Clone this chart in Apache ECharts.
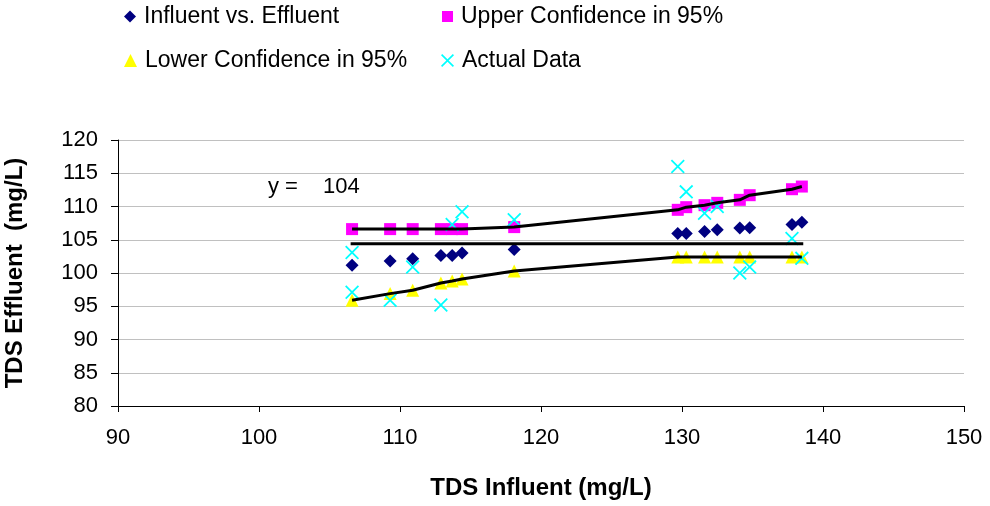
<!DOCTYPE html>
<html>
<head>
<meta charset="utf-8">
<script src="https://cdn.jsdelivr.net/npm/echarts@6/dist/echarts.min.js"></script>
<style>html,body{margin:0;padding:0;background:#fff}#c{width:990px;height:506px}</style>
</head>
<body>
<div id="c"></div>
<script>
var influent = [106.6, 109.3, 110.9, 112.9, 113.7, 114.4, 118.1, 129.7, 130.3, 131.6, 132.5, 134.1, 134.8, 137.8, 138.5];
var predicted = [101.15, 101.8, 102.15, 102.65, 102.65, 103.0, 103.55, 105.95, 105.95, 106.25, 106.5, 106.75, 106.8, 107.3, 107.65];
var upper = [106.6, 106.6, 106.6, 106.6, 106.6, 106.6, 106.9, 109.5, 109.9, 110.2, 110.55, 111.0, 111.7, 112.6, 113.0];
var lower = [95.9, 96.9, 97.4, 98.5, 98.8, 99.1, 100.3, 102.4, 102.4, 102.4, 102.4, 102.4, 102.4, 102.4, 102.4];
var actualX = [106.6, 106.6, 109.3, 110.9, 112.9, 113.7, 114.4, 118.1, 129.7, 130.3, 131.6, 132.5, 134.1, 134.8, 137.8, 138.5];
var actualY = [103.1, 97.1, 95.9, 100.9, 95.2, 107.3, 109.2, 108.0, 116.0, 112.2, 109.0, 110.0, 100.0, 100.9, 105.2, 102.2];
var meanX = [106.5, 138.6];
var meanY = [104.4, 104.4];
var xTicks = [90, 100, 110, 120, 130, 140, 150];
var yTicks = [80, 85, 90, 95, 100, 105, 110, 115, 120];

var FONT = 'Liberation Sans';
var crossPath = 'path://M0,0.9L0.9,0L5,4.1L9.1,0L10,0.9L5.9,5L10,9.1L9.1,10L5,5.9L0.9,10L0,9.1L4.1,5Z';
function pairs(xs, ys) { return xs.map(function (x, i) { return [x, ys[i]]; }); }

var chart = echarts.init(document.getElementById('c'));
function legend(name, icon, left, top, w, h, color) {
  return {
    data: [{ name: name, icon: icon, itemStyle: { color: color, opacity: 1 } }], left: left, top: top, padding: 0,
    itemWidth: w, itemHeight: h, selectedMode: false,
    textStyle: { fontFamily: FONT, fontSize: 23, color: '#000', padding: [0, 0, 0, 3] }
  };
}
chart.setOption({
  animation: false,
  backgroundColor: '#fff',
  legend: [
    legend('Influent vs. Effluent', 'diamond', 124, 5, 12, 12, '#000080'),
    legend('Upper Confidence in 95%', 'rect', 442, 5, 11, 11, '#FF00FF'),
    legend('Lower Confidence in 95%', 'triangle', 124, 49, 13, 13, '#FFFF00'),
    legend('Actual Data', crossPath, 441, 49, 13, 13, '#00FFFF')
  ],
  grid: { left: 118, right: 26, top: 140, bottom: 100, outerBoundsMode: 'none', containLabel: false },
  xAxis: {
    type: 'value', min: 90, max: 150, interval: 10,
    name: 'TDS Influent (mg/L)', nameLocation: 'middle', nameGap: 70,
    nameTextStyle: { fontFamily: FONT, fontSize: 24, fontWeight: 'bold', color: '#000' },
    axisLine: { show: true, onZero: false, lineStyle: { color: '#000', width: 1 } },
    axisTick: { show: true, length: 6, lineStyle: { color: '#000' } },
    axisLabel: { fontFamily: FONT, fontSize: 22, color: '#000', margin: 21,
      formatter: function (v) { return xTicks.indexOf(v) >= 0 ? String(v) : ''; } },
    splitLine: { show: false }
  },
  yAxis: {
    type: 'value', min: 80, max: 120, interval: 5,
    name: 'TDS Effluent  (mg/L)', nameLocation: 'middle', nameGap: 91,
    nameTextStyle: { fontFamily: FONT, fontSize: 24, fontWeight: 'bold', color: '#000' },
    axisLine: { show: true, lineStyle: { color: '#000', width: 1 } },
    axisTick: { show: true, length: 7, lineStyle: { color: '#000' } },
    axisLabel: { fontFamily: FONT, fontSize: 22, color: '#000', margin: 20,
      formatter: function (v) { return yTicks.indexOf(v) >= 0 ? String(v) : ''; } },
    splitLine: { show: true, lineStyle: { color: '#c0c0c0', width: 1 } }
  },
  graphic: [
    { type: 'text', left: 268, top: 176, style: { text: 'y =', font: '22px "Liberation Sans"', fill: '#000' } },
    { type: 'text', left: 323, top: 176, style: { text: '104', font: '22px "Liberation Sans"', fill: '#000' } }
  ],
  series: [
    { name: 'Influent vs. Effluent', type: 'scatter', symbol: 'diamond', symbolSize: 13,
      itemStyle: { color: '#000080', opacity: 1 }, data: pairs(influent, predicted), z: 3 },
    { name: 'Upper Confidence in 95%', type: 'scatter', symbol: 'rect', symbolSize: 12,
      itemStyle: { color: '#FF00FF', opacity: 1 }, data: pairs(influent, upper), z: 3 },
    { name: 'Lower Confidence in 95%', type: 'scatter', symbol: 'triangle', symbolSize: 13,
      itemStyle: { color: '#FFFF00', opacity: 1 }, data: pairs(influent, lower), z: 3 },
    { name: 'Actual Data', type: 'scatter', symbol: crossPath, symbolSize: 14,
      itemStyle: { color: '#00FFFF', opacity: 1 }, data: pairs(actualX, actualY), z: 4 },
    { name: 'upperLine', type: 'line', showSymbol: false, symbol: 'none', data: pairs(influent, upper),
      lineStyle: { color: '#000', width: 3 }, z: 5, silent: true },
    { name: 'lowerLine', type: 'line', showSymbol: false, symbol: 'none', data: pairs(influent, lower),
      lineStyle: { color: '#000', width: 3 }, z: 5, silent: true },
    { name: 'meanLine', type: 'line', showSymbol: false, symbol: 'none', data: pairs(meanX, meanY),
      lineStyle: { color: '#000', width: 3 }, z: 5, silent: true }
  ]
});
</script>
</body>
</html>
